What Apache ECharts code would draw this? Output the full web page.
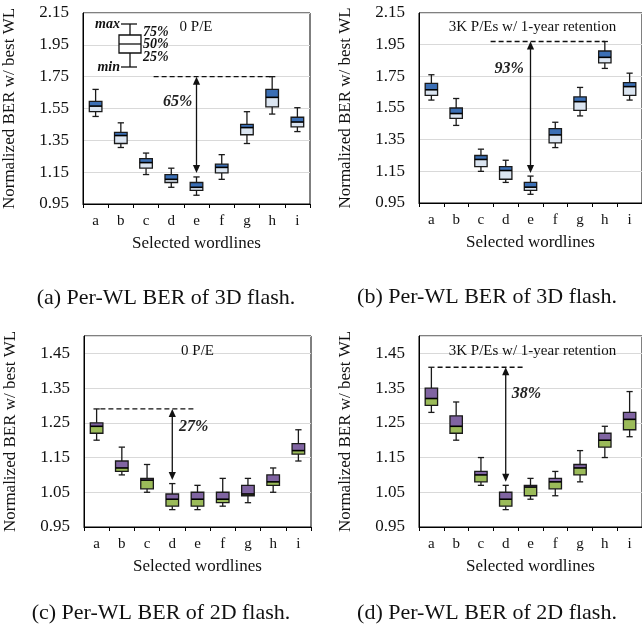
<!DOCTYPE html>
<html><head><meta charset="utf-8">
<script src="https://cdn.jsdelivr.net/npm/echarts@6/dist/echarts.min.js"></script>
<style>html,body{margin:0;padding:0;background:#fff}#c{width:642px;height:632px}</style>
</head><body><div id="c"></div>
<script>
// ---------------- data ----------------
const categories = ['a','b','c','d','e','f','g','h','i'];
// each row: [min, q1 (25%), median, q3 (75%), max]
const ber3dFresh = [
  [1.50,1.53,1.565,1.595,1.67],[1.305,1.33,1.38,1.40,1.46],[1.135,1.175,1.21,1.235,1.27],
  [1.055,1.085,1.105,1.135,1.175],[1.005,1.035,1.055,1.085,1.12],[1.105,1.145,1.18,1.20,1.26],
  [1.33,1.385,1.43,1.45,1.53],[1.515,1.56,1.62,1.67,1.75],[1.405,1.435,1.465,1.495,1.555]
];
const ber3dAged = [
  [1.60,1.63,1.665,1.705,1.76],[1.44,1.485,1.515,1.55,1.61],[1.15,1.18,1.225,1.25,1.29],
  [1.08,1.10,1.155,1.18,1.22],[1.005,1.03,1.05,1.08,1.12],[1.30,1.33,1.38,1.42,1.46],
  [1.50,1.535,1.59,1.62,1.68],[1.80,1.835,1.87,1.91,1.97],[1.60,1.63,1.685,1.71,1.77]
];
const ber2dFresh = [
  [1.20,1.22,1.24,1.25,1.29],[1.10,1.11,1.12,1.14,1.18],[1.05,1.06,1.085,1.09,1.13],
  [1.00,1.01,1.03,1.045,1.075],[1.00,1.01,1.03,1.05,1.07],[1.01,1.02,1.03,1.05,1.09],
  [1.02,1.04,1.045,1.07,1.09],[1.05,1.07,1.08,1.10,1.12],[1.14,1.16,1.17,1.19,1.23]
];
const ber2dAged = [
  [1.28,1.30,1.32,1.35,1.41],[1.20,1.22,1.24,1.27,1.31],[1.07,1.08,1.10,1.11,1.15],
  [1.00,1.01,1.03,1.05,1.07],[1.03,1.04,1.065,1.07,1.09],[1.04,1.06,1.08,1.09,1.11],
  [1.08,1.10,1.12,1.13,1.17],[1.15,1.18,1.20,1.22,1.24],[1.21,1.23,1.26,1.28,1.34]
];
const yTicks3d = [0.95,1.15,1.35,1.55,1.75,1.95,2.15];
const yTicks2d = [0.95,1.05,1.15,1.25,1.35,1.45];
const yMax2d = 1.5;
const panelTitles = ['0 P/E','3K P/Es w/ 1-year retention','0 P/E','3K P/Es w/ 1-year retention'];
const captions = ['(a) Per-WL BER of 3D flash.','(b) Per-WL BER of 3D flash.','(c) Per-WL BER of 2D flash.','(d) Per-WL BER of 2D flash.'];
// spread annotations (data units: category index / normalized BER)
const spreadLabels = ['65%','93%','27%','38%'];
const spreadTop = [1.75,1.97,1.29,1.41];
const spreadBottom = [1.145,1.14,1.085,1.08];
const spreadAt = [4,4,3,3];
const dashFrom = [2.3,2.39,0.15,0.25];
const dashTo = [7,7,3.9,3.8];
const labelX = [3.25,3.14,3.85,3.84];
const labelY = [1.593,1.80,1.239,1.332];

// ---------------- layout / style ----------------
const FONT = '"Liberation Serif","Times New Roman",serif';
const panels = [ber3dFresh, ber3dAged, ber2dFresh, ber2dAged];
const grids = [
  {left:82, top:13, width:228, height:191},
  {left:419, top:13, width:227, height:190},
  {left:84, top:336, width:227, height:191},
  {left:419, top:336, width:227, height:191}
];
const upperColors = ['#3b6fb5','#3b6fb5','#8064a2','#8064a2'];
const lowerColors = ['#dbe5f1','#dbe5f1','#9bbb59','#9bbb59'];
const r4 = v => Math.round(v*10000)/10000;

function boxRender(upper, lower) {
  return function (params, api) {
    const i = api.value(0);
    const p = [1,2,3,4,5].map(d => api.coord([i, api.value(d)]));
    const [pMin,pQ1,pMd,pQ3,pMax] = p;
    const band = api.size([1,0])[0];
    const bw = band*0.5, cw = band*0.25, cx = pMin[0];
    const ls = {stroke:'#1a1a1a', lineWidth:1.3};
    return {type:'group', children:[
      {type:'line', shape:{x1:cx,y1:pMax[1],x2:cx,y2:pQ3[1]}, style:ls},
      {type:'line', shape:{x1:cx,y1:pQ1[1],x2:cx,y2:pMin[1]}, style:ls},
      {type:'line', shape:{x1:cx-cw/2,y1:pMax[1],x2:cx+cw/2,y2:pMax[1]}, style:ls},
      {type:'line', shape:{x1:cx-cw/2,y1:pMin[1],x2:cx+cw/2,y2:pMin[1]}, style:ls},
      {type:'rect', shape:{x:cx-bw/2,y:pMd[1],width:bw,height:pQ1[1]-pMd[1]}, style:{fill:lower}},
      {type:'rect', shape:{x:cx-bw/2,y:pQ3[1],width:bw,height:pMd[1]-pQ3[1]}, style:{fill:upper}},
      {type:'rect', shape:{x:cx-bw/2,y:pQ3[1],width:bw,height:pQ1[1]-pQ3[1]}, style:{fill:'none',stroke:'#1a1a1a',lineWidth:1.3}},
      {type:'line', shape:{x1:cx-bw/2,y1:pMd[1],x2:cx+bw/2,y2:pMd[1]}, style:{stroke:'#000',lineWidth:1.6}}
    ]};
  };
}

function spreadRender(k) {
  return function (params, api) {
    const d0 = api.coord([dashFrom[k], spreadTop[k]]);
    const d1 = api.coord([dashTo[k], spreadTop[k]]);
    const a0 = api.coord([spreadAt[k], spreadTop[k]]);
    const a1 = api.coord([spreadAt[k], spreadBottom[k]]);
    const lp = api.coord([labelX[k], labelY[k]]);
    const h = 8, w = 3.6;
    return {type:'group', children:[
      {type:'line', shape:{x1:d0[0],y1:d0[1],x2:d1[0],y2:d1[1]}, style:{stroke:'#111',lineWidth:1.3,lineDash:[5,3]}},
      {type:'line', shape:{x1:a0[0],y1:a0[1]+h-1,x2:a1[0],y2:a1[1]-h+1}, style:{stroke:'#111',lineWidth:1.3}},
      {type:'polygon', shape:{points:[[a0[0],a0[1]],[a0[0]-w,a0[1]+h],[a0[0]+w,a0[1]+h]]}, style:{fill:'#111'}},
      {type:'polygon', shape:{points:[[a1[0],a1[1]],[a1[0]-w,a1[1]-h],[a1[0]+w,a1[1]-h]]}, style:{fill:'#111'}},
      {type:'text', style:{text:spreadLabels[k], x:lp[0], y:lp[1], align:'center', verticalAlign:'middle',
        textAlign:'center', textVerticalAlign:'middle', fill:'#222',
        font:'italic bold 16px ' + FONT}}
    ]};
  };
}

const xAxes = [], yAxes = [], series = [];
grids.forEach((g, k) => {
  xAxes.push({
    type:'category', gridIndex:k, data:categories, boundaryGap:true,
    name:'Selected wordlines', nameLocation:'middle', nameGap:31,
    nameTextStyle:{fontFamily:FONT, fontSize:17, color:'#111'},
    axisLine:{show:true, onZero:false, lineStyle:{color:'#000', width:1.2}},
    axisTick:{show:true, inside:false, length:4, lineStyle:{color:'#000'}},
    axisLabel:{fontFamily:FONT, fontSize:15, color:'#111', margin:10},
    splitLine:{show:false}
  });
  const ticks = k < 2 ? yTicks3d : yTicks2d;
  yAxes.push({
    type:'value', gridIndex:k, min:ticks[0], max: k < 2 ? ticks[ticks.length-1] : yMax2d,
    interval: r4(ticks[1]-ticks[0]),
    name:'Normalized BER w/ best WL', nameLocation:'middle', nameGap:65,
    nameTextStyle:{fontFamily:FONT, fontSize:17, color:'#111'},
    axisLine:{show:true, onZero:false, lineStyle:{color:'#000'}},
    axisTick:{show:false},
    axisLabel:{fontFamily:FONT, fontSize:17, color:'#111', margin:14,
      showMaxLabel: k < 2, formatter: v => r4(v).toFixed(2)},
    splitLine:{show:true, lineStyle:{color:'#d9d9d9', width:1}}
  });
  series.push({
    type:'custom', xAxisIndex:k, yAxisIndex:k, z:3,
    renderItem: boxRender(upperColors[k], lowerColors[k]),
    encode:{x:0, y:[1,2,3,4,5]},
    data: panels[k].map((v, i) => [i, ...v])
  });
});
grids.forEach((g, k) => {
  xAxes.push({type:'value', gridIndex:k, min:-0.5, max:8.5, show:false,
    axisLine:{show:false, onZero:false}, splitLine:{show:false}});
});
grids.forEach((g, k) => {
  series.push({
    type:'custom', xAxisIndex:4+k, yAxisIndex:k, z:4,
    renderItem: spreadRender(k), data:[[spreadAt[k], spreadTop[k]]]
  });
});

// titles, captions, and the box legend key
const graphic = [];
const titleY = [27,27,351,351];
grids.forEach((g, k) => {
  graphic.push({type:'text', x:g.left+g.width/2, y:titleY[k], z:10, style:{
    text:panelTitles[k], font:'15px '+FONT, fill:'#111',
    textAlign:'center', textVerticalAlign:'middle', align:'center', verticalAlign:'middle'}});
});
const capPos = [[166,298],[487,297],[161,613],[487,613]];
capPos.forEach((p, k) => {
  graphic.push({type:'text', x:p[0], y:p[1], z:10, style:{
    text:captions[k], font:'22px '+FONT, fill:'#111',
    textAlign:'center', textVerticalAlign:'middle', align:'center', verticalAlign:'middle'}});
});
const lk = {cx:130, max:24, q3:35, md:44, q1:53, min:67, bw:22};
const kStroke = {stroke:'#111', lineWidth:1.3};
graphic.push(
  {type:'line', z:10, shape:{x1:lk.cx,y1:lk.max,x2:lk.cx,y2:lk.q3}, style:kStroke},
  {type:'line', z:10, shape:{x1:lk.cx,y1:lk.q1,x2:lk.cx,y2:lk.min}, style:kStroke},
  {type:'line', z:10, shape:{x1:lk.cx-9,y1:lk.max,x2:lk.cx+7,y2:lk.max}, style:kStroke},
  {type:'line', z:10, shape:{x1:lk.cx-9,y1:lk.min,x2:lk.cx+7,y2:lk.min}, style:kStroke},
  {type:'rect', z:10, shape:{x:lk.cx-lk.bw/2,y:lk.q3,width:lk.bw,height:lk.q1-lk.q3}, style:{fill:'#fff',stroke:'#111',lineWidth:1.3}},
  {type:'line', z:10, shape:{x1:lk.cx-lk.bw/2,y1:lk.md,x2:lk.cx+lk.bw/2,y2:lk.md}, style:kStroke}
);
[['max',lk.cx-10,lk.max,'right'],['min',lk.cx-10,lk.min,'right'],
 ['75%',lk.cx+13,32,'left'],['50%',lk.cx+13,44,'left'],['25%',lk.cx+13,57,'left']].forEach(t => {
  graphic.push({type:'text', z:10, x:t[1], y:t[2], style:{
    text:t[0], font:'italic bold 14px '+FONT, fill:'#111',
    textAlign:t[3], textVerticalAlign:'middle', align:t[3], verticalAlign:'middle'}});
});

const chart = echarts.init(document.getElementById('c'), null, {renderer:'canvas'});
chart.setOption({
  backgroundColor:'#fff',
  animation:false,
  grid: grids.map(g => Object.assign({show:true, borderColor:'#000', borderWidth:1, backgroundColor:'transparent', containLabel:false}, g)),
  xAxis: xAxes,
  yAxis: yAxes,
  series: series,
  graphic: graphic
});
</script>
</body></html>
